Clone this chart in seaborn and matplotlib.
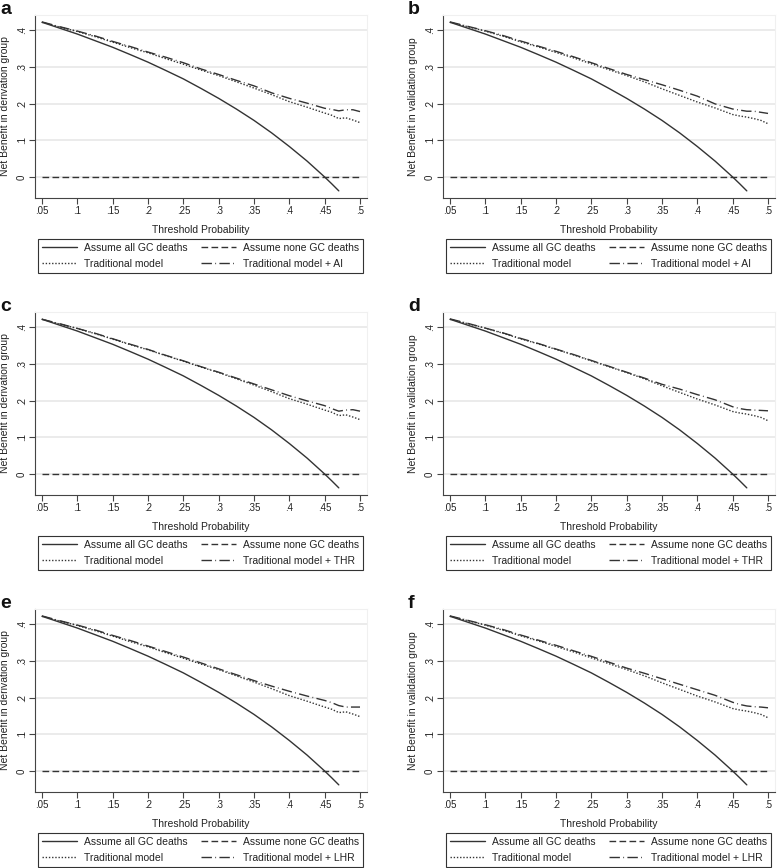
import matplotlib
matplotlib.use("Agg")
import matplotlib.pyplot as plt
import seaborn as sns
from matplotlib.lines import Line2D

sns.set_theme(style="white")
plt.rcParams['font.family'] = ['Liberation Sans', 'DejaVu Sans']

# threshold probabilities used for the model curves
thresholds = [0.05, 0.075, 0.10, 0.125, 0.15, 0.175, 0.20, 0.225, 0.25, 0.275, 0.30,
              0.325, 0.35, 0.375, 0.40, 0.425, 0.45, 0.46, 0.47, 0.48, 0.49, 0.50]

# treat-all curve (ends at .47)
treat_all_x = thresholds[:19]
treat_all = [0.421, 0.405, 0.389, 0.371, 0.353, 0.333, 0.3125, 0.290, 0.267, 0.241,
             0.214, 0.185, 0.154, 0.120, 0.083, 0.0435, 0.0, -0.0185, -0.0377]

trad_derivation = [0.421, 0.408, 0.396, 0.382, 0.367, 0.352, 0.338, 0.322, 0.307, 0.291, 0.276,
                   0.259, 0.242, 0.224, 0.205, 0.190, 0.174, 0.168, 0.159, 0.161, 0.155, 0.148]
trad_validation = [0.421, 0.409, 0.397, 0.383, 0.368, 0.354, 0.339, 0.324, 0.308, 0.292, 0.276,
                   0.259, 0.240, 0.222, 0.204, 0.188, 0.170, 0.166, 0.163, 0.159, 0.154, 0.145]

ai_derivation = [0.422, 0.409, 0.397, 0.384, 0.369, 0.355, 0.340, 0.326, 0.311, 0.294, 0.279,
                 0.263, 0.248, 0.229, 0.214, 0.201, 0.187, 0.184, 0.180, 0.183, 0.183, 0.178]
ai_validation = [0.422, 0.410, 0.398, 0.385, 0.370, 0.356, 0.342, 0.327, 0.311, 0.295, 0.279,
                 0.265, 0.251, 0.236, 0.220, 0.199, 0.185, 0.182, 0.179, 0.179, 0.176, 0.173]
thr_derivation = [0.421, 0.409, 0.396, 0.383, 0.368, 0.353, 0.339, 0.323, 0.308, 0.292, 0.277,
                  0.261, 0.245, 0.229, 0.213, 0.199, 0.186, 0.178, 0.171, 0.174, 0.175, 0.171]
thr_validation = [0.422, 0.410, 0.397, 0.384, 0.369, 0.355, 0.340, 0.325, 0.309, 0.293, 0.277,
                  0.261, 0.244, 0.231, 0.216, 0.202, 0.183, 0.178, 0.175, 0.174, 0.173, 0.172]
lhr_derivation = [0.422, 0.409, 0.397, 0.384, 0.369, 0.355, 0.340, 0.325, 0.310, 0.294, 0.278,
                  0.262, 0.246, 0.231, 0.217, 0.204, 0.192, 0.186, 0.178, 0.174, 0.174, 0.174]
lhr_validation = [0.422, 0.410, 0.398, 0.385, 0.370, 0.356, 0.342, 0.327, 0.312, 0.296, 0.280,
                  0.266, 0.251, 0.236, 0.221, 0.206, 0.187, 0.181, 0.177, 0.175, 0.174, 0.172]

x_ticks = [0.05, 0.1, 0.15, 0.2, 0.25, 0.3, 0.35, 0.4, 0.45, 0.5]
x_ticklabels = [".05", ".1", ".15", ".2", ".25", ".3", ".35", ".4", ".45", ".5"]
y_ticks = [0, 0.1, 0.2, 0.3, 0.4]
y_ticklabels = ["0", ".1", ".2", ".3", ".4"]

panels = [
    ("a", "derivation", trad_derivation, ai_derivation, "Traditional model + AI"),
    ("b", "validation", trad_validation, ai_validation, "Traditional model + AI"),
    ("c", "derivation", trad_derivation, thr_derivation, "Traditional model + THR"),
    ("d", "validation", trad_validation, thr_validation, "Traditional model + THR"),
    ("e", "derivation", trad_derivation, lhr_derivation, "Traditional model + LHR"),
    ("f", "validation", trad_validation, lhr_validation, "Traditional model + LHR"),
]

W, H = 778, 868
fig = plt.figure(figsize=(W / 100, H / 100), dpi=100)

col_left = [35, 443]
row_top = [15, 312, 609]
ax_w, ax_h = 332, 183

ink = "#333333"
st_all = "-"
st_none = (0, (4.8, 2.4))
st_trad = (0, (1.0, 1.3))
st_model = (0, (7.5, 2.4, 0.6, 2.4))

for i, (letter, group, trad, model, model_label) in enumerate(panels):
    r, c = divmod(i, 2)
    left = col_left[c] / W
    bottom = 1 - (row_top[r] + ax_h) / H
    ax = fig.add_axes([left, bottom, ax_w / W, ax_h / H])

    for yv in y_ticks:
        ax.axhline(yv, color="#e6e6e6", lw=1.1, zorder=0)

    sns.lineplot(x=treat_all_x, y=treat_all, ax=ax, color=ink, lw=1.0, linestyle=st_all)
    sns.lineplot(x=[thresholds[0], thresholds[-1]], y=[0, 0], ax=ax, color=ink, lw=1.0,
                 linestyle=st_none)
    sns.lineplot(x=thresholds, y=trad, ax=ax, color=ink, lw=1.0, linestyle=st_trad)
    sns.lineplot(x=thresholds, y=model, ax=ax, color=ink, lw=1.0, linestyle=st_model)

    ax.set_xlim(0.0401, 0.5099)
    ax.set_ylim(-0.0571, 0.4408)
    ax.set_xticks(x_ticks)
    ax.set_xticklabels(x_ticklabels, fontsize=7)
    ax.set_yticks(y_ticks)
    ax.set_yticklabels(y_ticklabels, fontsize=7, rotation=90, va="center")
    ax.tick_params(axis="both", direction="out", length=4, width=0.8, color="#444444",
                   labelcolor="#222222", pad=2, left=True, bottom=True)
    for s in ["left", "bottom"]:
        ax.spines[s].set_color("#444444")
        ax.spines[s].set_linewidth(0.8)
    for s in ["top", "right"]:
        ax.spines[s].set_color("#f0f0f0")
        ax.spines[s].set_linewidth(0.8)

    ax.set_xlabel("Threshold Probability", fontsize=7.5, color="#222222", labelpad=6)
    ax.set_ylabel(f"Net Benefit in {group} group", fontsize=7.5, color="#222222", labelpad=5)

    handles = [
        Line2D([0], [0], color=ink, lw=1.0, linestyle=st_all),
        Line2D([0], [0], color=ink, lw=1.0, linestyle=st_trad),
        Line2D([0], [0], color=ink, lw=1.0, linestyle=st_none),
        Line2D([0], [0], color=ink, lw=1.0, linestyle=st_model),
    ]
    labels = ["Assume all GC deaths", "Traditional model",
              "Assume none GC deaths", model_label]
    leg = ax.legend(handles, labels, ncol=2, loc="upper left",
                    bbox_to_anchor=(0.009, -0.404, 0.979, 0.18), mode="expand",
                    frameon=True, fancybox=False, borderaxespad=0, fontsize=7.5,
                    handlelength=3.4, handletextpad=0.7, borderpad=0.35,
                    labelspacing=0.6, columnspacing=1.2)
    leg.get_frame().set_edgecolor("#333333")
    leg.get_frame().set_linewidth(0.8)
    leg.get_frame().set_alpha(1.0)
    for t in leg.get_texts():
        t.set_color("#222222")

    fig.text((col_left[c] - 35) / W, 1 - (row_top[r] - 1) / H,
             letter, fontsize=14, fontweight="bold", va="baseline", ha="left", color="#111111")

fig.savefig("out.png", dpi=100)
